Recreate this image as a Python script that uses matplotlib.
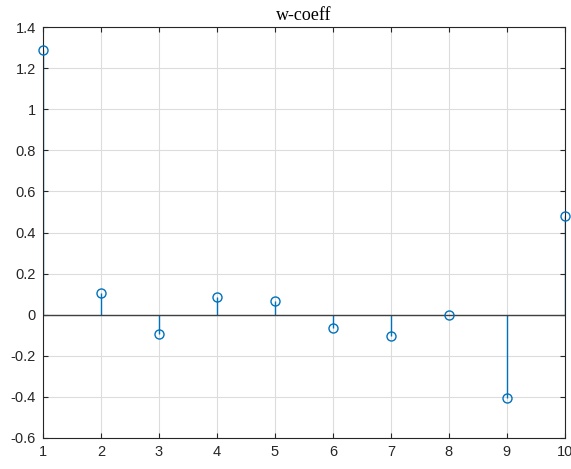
import matplotlib.pyplot as plt

# w-coeff values
idx = [1, 2, 3, 4, 5, 6, 7, 8, 9, 10]
coeff = [1.29, 0.107, -0.093, 0.087, 0.068, -0.063, -0.103, 0.0, -0.404, 0.479]
xticks = [1, 2, 3, 4, 5, 6, 7, 8, 9, 10]
yticks = [-0.6, -0.4, -0.2, 0, 0.2, 0.4, 0.6, 0.8, 1, 1.2, 1.4]
ylabels = ['-0.6', '-0.4', '-0.2', '0', '0.2', '0.4', '0.6', '0.8', '1', '1.2', '1.4']

blue = '#0072BD'

fig = plt.figure(figsize=(5.71, 4.69), dpi=100)
ax = fig.add_axes([0.0753, 0.0661, 0.914, 0.8763])

markers, stems, base = ax.stem(idx, coeff, linefmt='-', markerfmt='o', basefmt='-')
plt.setp(stems, color=blue, linewidth=1.0)
plt.setp(markers, markerfacecolor='none', markeredgecolor=blue, markersize=6.5,
         markeredgewidth=1.0, clip_on=False, zorder=4)
plt.setp(base, color='#404040', linewidth=1.0)

ax.set_xlim(1, 10)
ax.set_ylim(-0.6, 1.4)
ax.set_xticks(xticks)
ax.set_yticks(yticks)
ax.set_yticklabels(ylabels)

ax.grid(True, color='#dcdcdc', linewidth=0.8)
ax.set_axisbelow(True)
for s in ax.spines.values():
    s.set_color('#262626')
    s.set_linewidth(0.8)
ax.tick_params(direction='in', length=3.6, width=0.8, top=True, right=True,
               colors='#262626', labelsize=10.5, pad=5)
for lab in ax.get_xticklabels() + ax.get_yticklabels():
    lab.set_fontfamily('Liberation Sans')

ax.set_title('w-coeff', fontfamily='Liberation Serif', fontsize=13, pad=5)

fig.savefig('out.png', dpi=100)
